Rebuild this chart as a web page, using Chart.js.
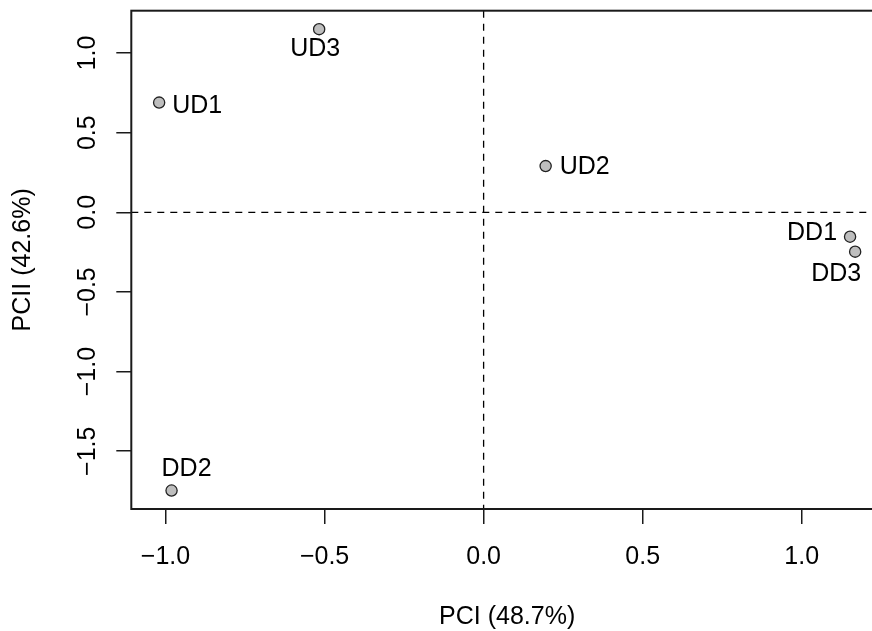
<!DOCTYPE html>
<html>
<head>
<meta charset="utf-8">
<script src="https://cdn.jsdelivr.net/npm/chart.js@4/dist/chart.umd.min.js"></script>
<style>
  html, body { margin: 0; padding: 0; background: #fff; overflow: hidden; width: 872px; height: 631px; }
  #wrap { width: 890px; height: 631px; }
</style>
</head>
<body>
<div id="wrap"><canvas id="c" width="890" height="631"></canvas></div>
<script>
// ---- data ----
const sampleNames = ["UD1", "UD2", "UD3", "DD1", "DD2", "DD3"];
const pc1Values   = [-1.020, 0.195, -0.517, 1.152, -0.981, 1.168];
const pc2Values   = [0.689, 0.290, 1.150, -0.153, -1.747, -0.247];
const xTickValues = [-1.0, -0.5, 0.0, 0.5, 1.0];
const yTickValues = [-1.5, -1.0, -0.5, 0.0, 0.5, 1.0];
const xAxisTitle = "PCI (48.7%)";
const yAxisTitle = "PCII (42.6%)";

// ---- label placement (style only) ----
const labelPlacement = {
  UD1: { align: "left",   dx: 13,  dy: 4 },
  UD2: { align: "left",   dx: 14,  dy: 1 },
  UD3: { align: "center", dx: -4,  dy: 20 },
  DD1: { align: "right",  dx: -13, dy: -4 },
  DD2: { align: "left",   dx: -10, dy: -21 },
  DD3: { align: "right",  dx: 6,   dy: 22 }
};

const FONT = "'Liberation Sans', Arial, Helvetica, sans-serif";

function expand(vals) {
  const mn = Math.min(...vals), mx = Math.max(...vals);
  const r = mx - mn;
  return [mn - 0.04 * r, mx + 0.04 * r];
}
const [xMin, xMax] = expand(pc1Values);
const [yMin, yMax] = expand(pc2Values);

const fmt = v => (v < 0 ? "\u2212" : "") + Math.abs(v).toFixed(1);

const points = pc1Values.map((x, i) => ({ x: x, y: pc2Values[i] }));

const decorPlugin = {
  id: "decor",
  beforeDatasetsDraw(chart) {
    const { ctx, chartArea: a, scales: { x, y } } = chart;
    ctx.save();
    ctx.strokeStyle = "#000";
    ctx.lineWidth = 1.3;
    ctx.setLineDash([7, 6]);
    const x0 = x.getPixelForValue(0);
    const y0 = y.getPixelForValue(0);
    ctx.beginPath();
    ctx.moveTo(x0, a.top); ctx.lineTo(x0, a.bottom);
    ctx.moveTo(a.left, y0); ctx.lineTo(a.right, y0);
    ctx.stroke();
    ctx.restore();
  },
  afterDatasetsDraw(chart) {
    const { ctx, chartArea: a, scales: { y } } = chart;
    ctx.save();
    // box
    ctx.strokeStyle = "#1a1a1a";
    ctx.lineWidth = 2;
    ctx.setLineDash([]);
    ctx.strokeRect(a.left, a.top, a.right - a.left, a.bottom - a.top);
    // point labels
    ctx.fillStyle = "#000";
    ctx.font = "25px " + FONT;
    ctx.textBaseline = "middle";
    const meta = chart.getDatasetMeta(0);
    meta.data.forEach((el, i) => {
      const name = sampleNames[i];
      const p = labelPlacement[name];
      ctx.textAlign = p.align;
      ctx.fillText(name, el.x + p.dx, el.y + p.dy);
    });
    // rotated y tick labels
    ctx.textAlign = "center";
    ctx.textBaseline = "middle";
    yTickValues.forEach(v => {
      const py = y.getPixelForValue(v);
      ctx.save();
      ctx.translate(88, py);
      ctx.rotate(-Math.PI / 2);
      ctx.fillText(fmt(v), 0, 0);
      ctx.restore();
    });
    ctx.restore();
  }
};

new Chart(document.getElementById("c"), {
  type: "scatter",
  data: {
    datasets: [{
      data: points,
      pointRadius: 5.6,
      pointHoverRadius: 5.6,
      pointBackgroundColor: "#bebebe",
      pointBorderColor: "#222",
      pointBorderWidth: 1.3
    }]
  },
  options: {
    responsive: false,
    devicePixelRatio: 1,
    animation: false,
    layout: { padding: { left: 0, top: 10.7, right: 7, bottom: 0 } },
    plugins: { legend: { display: false }, tooltip: { enabled: false } },
    scales: {
      x: {
        type: "linear",
        min: xMin, max: xMax,
        afterBuildTicks: s => { s.ticks = xTickValues.map(v => ({ value: v })); },
        afterFit: s => { s.height = 122; },
        grid: { display: true, drawOnChartArea: false, drawTicks: true, tickLength: 15, color: "#1a1a1a", lineWidth: 1.5 },
        border: { display: false },
        ticks: {
          autoSkip: false, maxRotation: 0, minRotation: 0, padding: 18,
          color: "#000",
          font: { family: FONT, size: 25, lineHeight: 1.2 },
          callback: v => fmt(v)
        },
        title: {
          display: true, text: xAxisTitle, color: "#000",
          font: { family: FONT, size: 25, lineHeight: 1 },
          padding: { top: 0, bottom: 1.5 }
        }
      },
      y: {
        type: "linear",
        min: yMin, max: yMax,
        afterBuildTicks: s => { s.ticks = yTickValues.map(v => ({ value: v })); },
        afterFit: s => { s.width = 131.3; },
        grid: { display: true, drawOnChartArea: false, drawTicks: true, tickLength: 15, color: "#1a1a1a", lineWidth: 1.5 },
        border: { display: false },
        ticks: { display: false },
        title: {
          display: true, text: yAxisTitle, color: "#000",
          font: { family: FONT, size: 25, lineHeight: 1 },
          padding: { top: 10.5, bottom: 0 }
        }
      }
    }
  },
  plugins: [decorPlugin]
});
</script>
</body>
</html>
